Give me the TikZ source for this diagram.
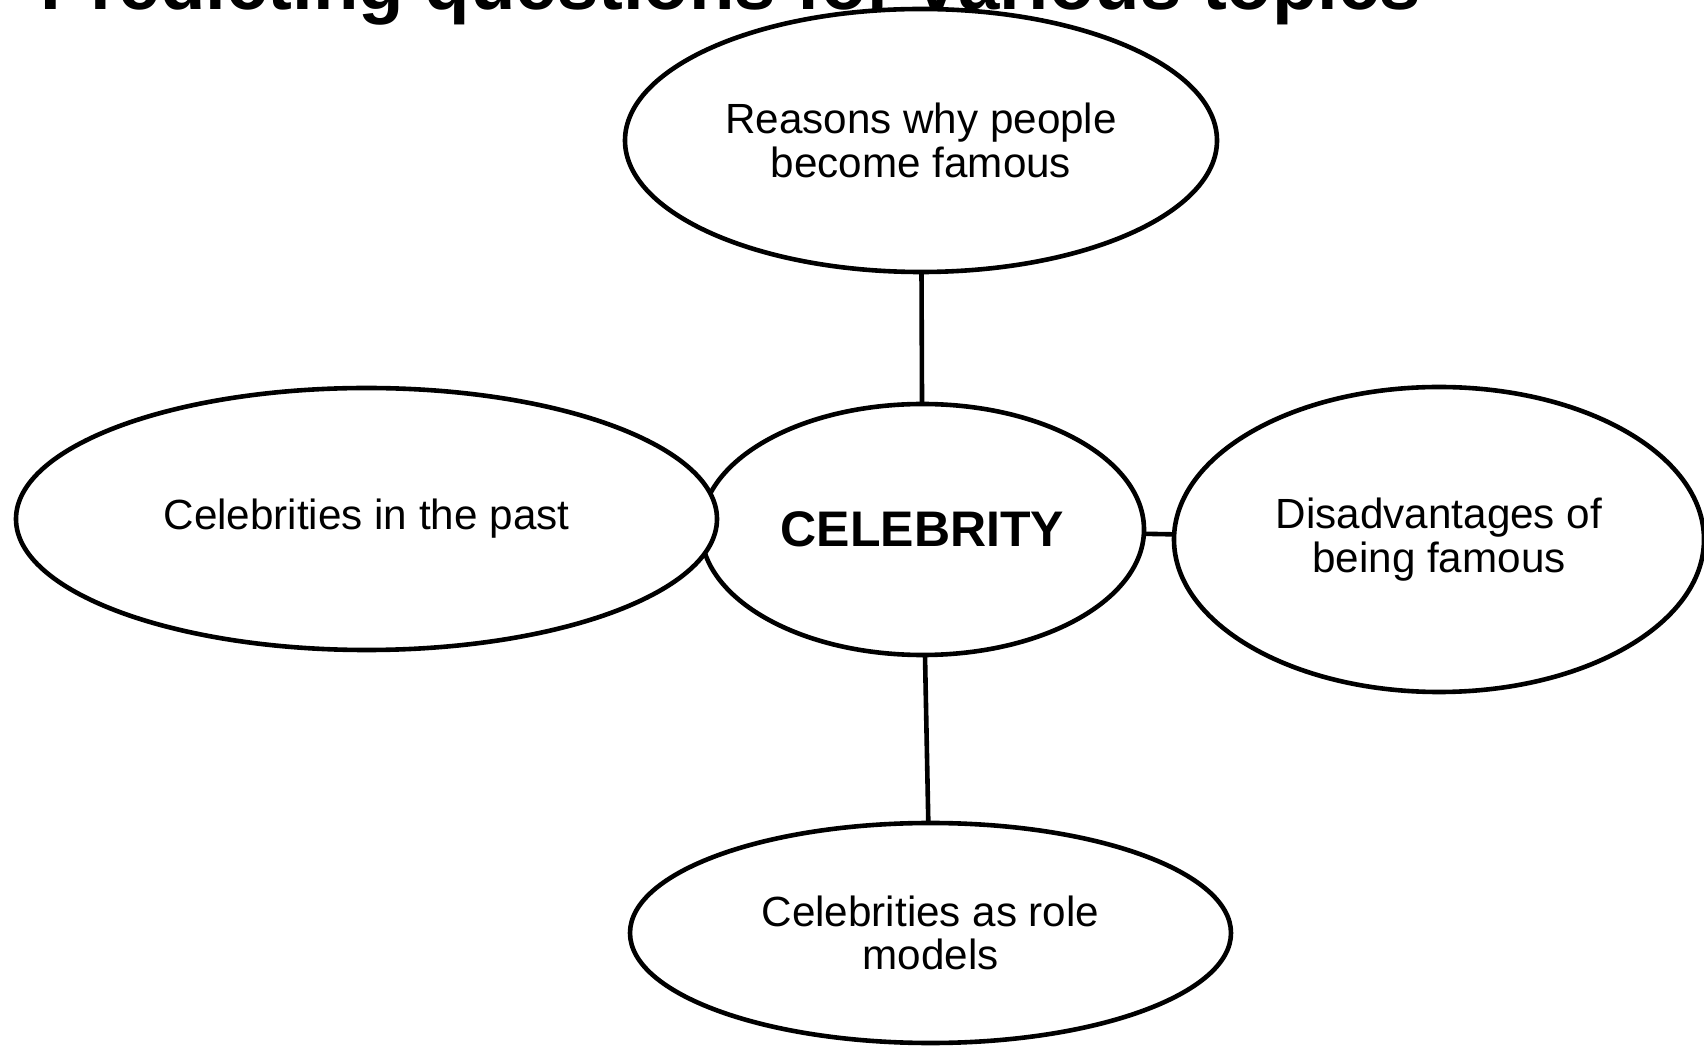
\documentclass[tikz,border=0pt]{standalone}
\usepackage{fontspec}
\setmainfont{Liberation Sans}
\usetikzlibrary{shapes.geometric,positioning}

\begin{document}
\begin{tikzpicture}[
  x=0.5pt, y=-0.5pt,
  bubble/.style={draw, fill=white, ellipse, line width=2.3pt, inner sep=0pt, outer sep=0pt, align=center,
    font=\fontsize{21.1}{21.75}\selectfont},
  link/.style={line width=2.3pt}
]
\useasboundingbox (0,0) rectangle (1704,1047);
\node (title) [anchor=base west, inner sep=0pt, font=\fontsize{37.2}{40}\selectfont\bfseries] at (40,10) {Predicting questions for various topics};
\node (celebrity) [bubble, minimum width=221.5pt, minimum height=125.5pt, font=\fontsize{25}{28}\selectfont\bfseries] at (922.5,529.5) {CELEBRITY};
\node (reasonsFamous) [bubble, minimum width=296pt, minimum height=131.5pt, above=66pt of celebrity, xshift=-0.75pt] {Reasons why people\\become famous};
\node (pastCelebs) [bubble, minimum width=350.5pt, minimum height=131pt, left=-8pt of celebrity, yshift=5.25pt] {Celebrities in the past};
\node (disadvantages) [bubble, minimum width=265pt, minimum height=152.5pt, right=15pt of celebrity, yshift=-5pt] {Disadvantages of\\being famous};
\node (roleModels) [bubble, minimum width=300.5pt, minimum height=110pt, below=84pt of celebrity, xshift=4pt] {Celebrities as role\\models};
\draw[link] (celebrity) -- (reasonsFamous);
\draw[link] (celebrity) -- (disadvantages);
\draw[link] (celebrity) -- (roleModels);
\end{tikzpicture}
\end{document}
